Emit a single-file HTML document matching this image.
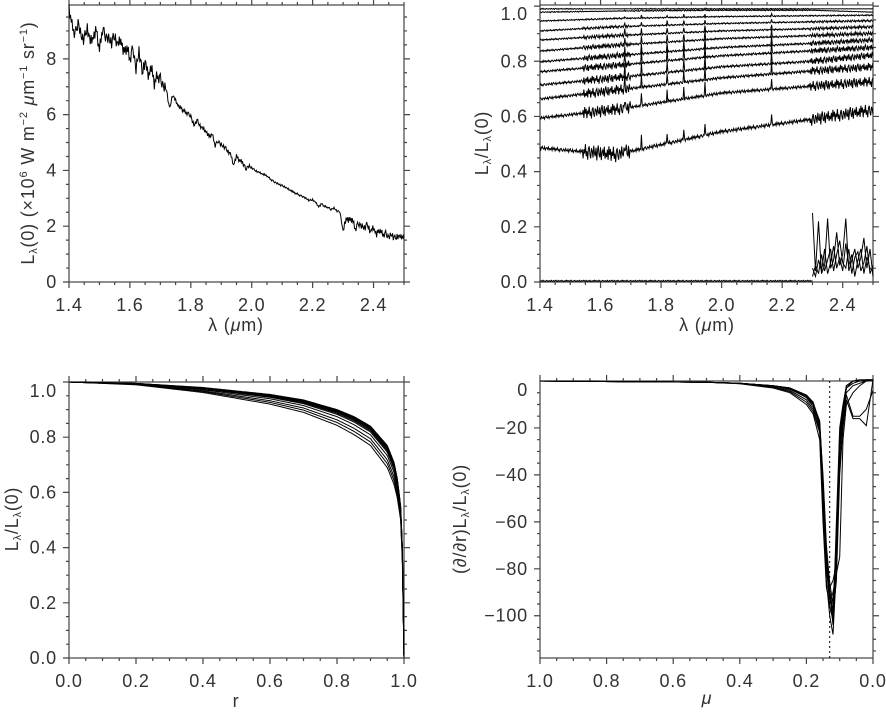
<!DOCTYPE html>
<html><head><meta charset="utf-8"><style>
html,body{margin:0;padding:0;background:#fff;}
svg{display:block;font-family:"Liberation Sans",sans-serif;}
text{fill:#333;font-size:18px;letter-spacing:0.8px;}
</style></head><body>
<svg id="chart" width="886" height="712" viewBox="0 0 886 712" xmlns="http://www.w3.org/2000/svg">
<g id="axes"></g>
<g id="series" fill="none" stroke="#000" stroke-width="1"></g>
<text x="236" y="331" text-anchor="middle">λ (<tspan font-style="italic">μ</tspan>m)</text>
<text x="707" y="331" text-anchor="middle">λ (<tspan font-style="italic">μ</tspan>m)</text>
<text x="236" y="707" text-anchor="middle">r</text>
<text x="707" y="704" text-anchor="middle" font-style="italic">μ</text>
<text transform="translate(34,143) rotate(-90)" text-anchor="middle">L<tspan font-size="11" dy="3">λ</tspan><tspan dy="-3">(0) (×10</tspan><tspan font-size="11" dy="-7">6</tspan><tspan dy="7"> W m</tspan><tspan font-size="11" dy="-7">−2</tspan><tspan dy="7"> </tspan><tspan font-style="italic">μ</tspan><tspan>m</tspan><tspan font-size="11" dy="-7">−1</tspan><tspan dy="7"> sr</tspan><tspan font-size="11" dy="-7">−1</tspan><tspan dy="7">)</tspan></text>
<text transform="translate(488,143) rotate(-90)" text-anchor="middle">L<tspan font-size="11" dy="3">λ</tspan><tspan dy="-3">/L</tspan><tspan font-size="11" dy="3">λ</tspan><tspan dy="-3">(0)</tspan></text>
<text transform="translate(18,519) rotate(-90)" text-anchor="middle">L<tspan font-size="11" dy="3">λ</tspan><tspan dy="-3">/L</tspan><tspan font-size="11" dy="3">λ</tspan><tspan dy="-3">(0)</tspan></text>
<text transform="translate(466,519) rotate(-90)" text-anchor="middle">(∂/∂r)L<tspan font-size="11" dy="3">λ</tspan><tspan dy="-3">/L</tspan><tspan font-size="11" dy="3">λ</tspan><tspan dy="-3">(0)</tspan></text>
</svg>
<script>
// ---------- data ----------
const specStart = 1.40, specStep = 0.01;
const specValues = [9.8,9.2,8.9,9.3,8.8,8.7,9.1,8.6,8.8,9.0,
 8.3,9.1,8.8,8.7,8.6,8.8,8.5,8.7,8.2,8.4,
 8.0,8.4,7.6,8.3,7.5,7.9,7.4,7.7,7.1,7.4,
 7.3,7.0,6.9,6.2,6.7,6.5,6.3,6.2,6.1,6.05,
 5.95,5.6,5.8,5.6,5.5,5.4,5.2,5.3,4.9,5.05,
 4.9,4.85,4.7,4.6,4.2,4.5,4.35,4.3,4.05,4.15,
 4.1,4.0,3.95,3.9,3.85,3.8,3.7,3.62,3.55,3.5,
 3.45,3.4,3.33,3.27,3.2,3.15,3.1,3.05,2.98,2.92,
 2.95,2.85,2.7,2.8,2.7,2.68,2.6,2.65,2.55,2.5,
 1.8,2.3,2.2,2.25,1.9,2.1,2.0,1.95,2.05,1.8,
 1.95,1.7,1.85,1.7,1.75,1.6,1.7,1.55,1.65,1.6,1.65];
const jitter = [0.6,-0.8,0.3,-0.2,0.9,-0.5,0.1,-0.9,0.4,0.7,-0.3,-0.7,0.5,0.2,-0.6,0.8,-0.1,-0.4,0.6,-0.9,0.3,0.9,-0.2,-0.5,0.7,-0.8,0.2,0.4,-0.3,0.8,-0.6,0.1,-0.4,0.5,-0.7,0.9,-0.1];

const ratioLam = [1.4,1.65,2.0,2.3,2.5];
const ratioCurves = [
 [0.99,0.99,0.99,0.99,0.99],
 [0.978,0.982,0.985,0.985,0.978],
 [0.946,0.955,0.962,0.965,0.967],
 [0.91,0.925,0.937,0.943,0.947],
 [0.877,0.893,0.91,0.918,0.925],
 [0.837,0.858,0.882,0.893,0.901],
 [0.798,0.82,0.85,0.865,0.877],
 [0.762,0.785,0.82,0.838,0.85],
 [0.714,0.74,0.78,0.8,0.822],
 [0.663,0.695,0.74,0.765,0.78],
 [0.594,0.625,0.685,0.71,0.726],
 [0.486,0.462,0.545,0.59,0.623]];
const emissionLam = [1.68,1.735,1.82,1.875,1.945,2.165];
const emissionHeight = [0.035,0.045,0.04,0.04,0.045,0.04];
const limbLam = [2.30,2.31,2.32,2.33,2.34,2.35,2.36,2.37,2.38,2.39,2.40,2.41,2.42,2.43,2.44,2.45,2.46,2.47,2.48,2.49,2.50];
const limbA = [0.25,0.04,0.22,0.03,0.06,0.23,0.05,0.08,0.18,0.06,0.1,0.23,0.04,0.08,0.12,0.05,0.09,0.16,0.05,0.12,0.02];
const limbB = [0.02,0.06,0.03,0.1,0.04,0.08,0.12,0.04,0.1,0.15,0.07,0.05,0.12,0.03,0.09,0.11,0.04,0.07,0.13,0.03,0.06];
const limbC = [0.05,0.02,0.08,0.04,0.12,0.03,0.07,0.13,0.05,0.09,0.04,0.14,0.06,0.1,0.02,0.08,0.12,0.03,0.09,0.05,0.04];

const rGrid = [0,0.2,0.4,0.6,0.7,0.8,0.85,0.9,0.95,0.97,0.98,0.99,0.995,1.0];
const rTop = [1.0,0.995,0.98,0.955,0.935,0.9,0.875,0.84,0.77,0.71,0.65,0.55,0.4,0];
const rBottom = [1.0,0.99,0.962,0.92,0.89,0.843,0.81,0.77,0.69,0.63,0.58,0.5,0.35,0];
const rWeights = [1,0.96,0.92,0.88,0.83,0.77,0.7,0.55,0.35,0.18,0];

const muGrid = [1,0.5,0.4,0.3,0.25,0.2,0.18,0.16,0.15,0.14,0.13,0.12,0.11,0.1,0.09,0.08,0.06,0.04,0.02,0];
const derivCurves = [
 [0,-0.5,-1,-2,-3,-6,-9,-18,-45,-75,-90,-104,-60,-20,-10,-2,0,0,1,2],
 [0,-0.5,-1,-2.5,-4,-8,-12,-20,-50,-85,-100,-108,-80,-30,-15,-3,0,0,0,2],
 [0,-0.5,-1.2,-3,-5,-10,-14,-25,-60,-88,-95,-90,-82,-75,-25,-10,-5,-2,0,2],
 [0,-0.5,-1,-2,-3.5,-7,-10,-19,-40,-70,-86,-95,-70,-25,-12,-5,-2,-1,0,2],
 [0,-0.5,-1,-2,-3,-6,-9,-18,-48,-80,-92,-100,-85,-40,-20,-8,-16,-16,-19,2],
 [0,-0.5,-1.1,-2.6,-4.5,-9,-13,-22,-55,-82,-88,-85,-78,-35,-18,-6,-15,-15,-12,-4],
 [0,-0.5,-1,-2.2,-3.2,-7,-11,-21,-52,-78,-96,-102,-72,-28,-14,-3,-1,0,0,2],
 [0,-0.5,-1,-2,-3,-6.5,-9.5,-17,-42,-72,-89,-98,-66,-22,-11,-2,0,1,1,2]];
const dashedMu = 0.13;

// ---------- helpers ----------
const NS = "http://www.w3.org/2000/svg";
const axesG = document.getElementById('axes');
const seriesG = document.getElementById('series');
function mk(tag, attrs, parent){const e=document.createElementNS(NS,tag);for(const k in attrs)e.setAttribute(k,attrs[k]);parent.appendChild(e);return e;}
function interp(xs, ys, x){
  const asc = xs[xs.length-1] > xs[0];
  for(let i=0;i<xs.length-1;i++){
    const a=xs[i], b=xs[i+1];
    if(asc ? (x>=a && x<=b) : (x<=a && x>=b)){const t=(x-a)/(b-a);return ys[i]+t*(ys[i+1]-ys[i]);}
  }
  return ys[ys.length-1];
}
function panel(p){
  p.sx = v => p.x0 + (v-p.xmin)/(p.xmax-p.xmin)*(p.x1-p.x0);
  p.sy = v => p.y1 - (v-p.ymin)/(p.ymax-p.ymin)*(p.y1-p.y0);
  const box = mk('rect',{x:p.x0,y:p.y0,width:p.x1-p.x0,height:p.y1-p.y0,fill:'none',stroke:'#444','stroke-width':1.2},axesG);
  
  
  let d='';
  const lo=Math.min(p.xmin,p.xmax), hi=Math.max(p.xmin,p.xmax);
  for(let v=lo; v<=hi+1e-9; v+=p.xminor){
    const isMaj = Math.abs(v/p.xmajor - Math.round(v/p.xmajor))<1e-6;
    const L = isMaj?6:3, x=p.sx(v);
    d+=`M${x},${p.y1}v${L}M${x},${p.y0}v${-L}`;
  }
  for(let v=p.ymin; v<=p.ymax+1e-9; v+=p.yminor){
    const k=v/p.yminor; const vv=Math.round(k)*p.yminor; if(vv<p.ymin-1e-9) continue;
    const isMaj = Math.abs(vv/p.ymajor - Math.round(vv/p.ymajor))<1e-6;
    const L = isMaj?6:3, y=p.sy(vv);
    d+=`M${p.x0},${y}h${-L}M${p.x1},${y}h${L}`;
  }
  const ticks = mk('path',{d:d,stroke:'#444','stroke-width':1.2,fill:'none'},axesG);
  
  
  p.xticks.forEach((v,i)=>{
    const t=mk('text',{x:p.sx(v),y:p.y1+29,'text-anchor':'middle'},axesG);
    t.textContent=p.xlabels[i];
    
    
  });
  p.yticks.forEach((v,i)=>{
    const y=Math.max(p.sy(v), p.y0+9);
    const t=mk('text',{x:p.x0-12,y:y+6,'text-anchor':'end'},axesG);
    t.textContent=p.ylabels[i];
    
    
  });
  return p;
}
function line(pts, name, extra){
  const e = mk('polyline',Object.assign({points:pts.map(q=>q[0].toFixed(1)+','+q[1].toFixed(1)).join(' ')},extra||{}),seriesG);
  
  
  return e;
}

// ---------- panel 1 ----------
const p1 = panel({name:'p1',x0:69,x1:404,y0:5,y1:282,xmin:1.4,xmax:2.5,ymin:0,ymax:9.93,
  xmajor:0.2,xminor:0.05,ymajor:2,yminor:0.5,
  xticks:[1.4,1.6,1.8,2.0,2.2,2.4],xlabels:['1.4','1.6','1.8','2.0','2.2','2.4'],
  yticks:[0,2,4,6,8],ylabels:['0','2','4','6','8']});
{
  const pts=[]; const lams=specValues.map((_,i)=>specStart+i*specStep);
  for(let i=0;i<=440;i++){
    const lam=1.4+i*0.0025;
    let v=interp(lams,specValues,lam);
    const amp = lam<1.72?0.25:(lam<2.0?0.09:(lam<2.3?0.04:0.14));
    v += amp*jitter[i%jitter.length];
    pts.push([p1.sx(lam),p1.sy(v)]);
  }
  line(pts,'central-spectrum',{'stroke-width':1});
}

// ---------- panel 2 ----------
const p2 = panel({name:'p2',x0:540,x1:873,y0:5,y1:282,xmin:1.4,xmax:2.5,ymin:0,ymax:1.004,
  xmajor:0.2,xminor:0.05,ymajor:0.2,yminor:0.05,
  xticks:[1.4,1.6,1.8,2.0,2.2,2.4],xlabels:['1.4','1.6','1.8','2.0','2.2','2.4'],
  yticks:[0,0.2,0.4,0.6,0.8,1.0],ylabels:['0.0','0.2','0.4','0.6','0.8','1.0']});
ratioCurves.forEach((c,ci)=>{
  const depth = 1-c[0];
  const pts=[];
  for(let i=0;i<=440;i++){
    const lam=1.4+i*0.0025;
    let v=interp(ratioLam,c,lam);
    let amp = 0.002 + depth*0.01;
    if(lam>1.54 && lam<1.7) amp = depth*0.06;
    if(lam>2.29) amp = depth*0.05;
    v += amp*jitter[(i+ci*5)%jitter.length];
    emissionLam.forEach((el,k)=>{ if(Math.abs(lam-el)<0.0013) v += emissionHeight[k]*Math.min(1,depth*4); });
    pts.push([p2.sx(lam),p2.sy(v)]);
  }
  line(pts,'ratio-curve-'+ci);
});
{
  const pts=[];
  for(let i=0;i<=360;i++){
    const lam=1.4+i*0.0025;
    let v=0.003+0.004*Math.max(0,jitter[i%jitter.length]);
    pts.push([p2.sx(lam),p2.sy(v)]);
  }
  line(pts,'ratio-curve-limb-base');
  [limbA,limbB,limbC].forEach((arr,k)=>{
    line(limbLam.map((l,i)=>[p2.sx(l),p2.sy(arr[i])]),'ratio-curve-limb-'+k);
  });
}

// ---------- panel 3 ----------
const p3 = panel({name:'p3',x0:69,x1:404,y0:382,y1:658,xmin:0,xmax:1,ymin:0,ymax:1.0,
  xmajor:0.2,xminor:0.05,ymajor:0.2,yminor:0.05,
  xticks:[0,0.2,0.4,0.6,0.8,1.0],xlabels:['0.0','0.2','0.4','0.6','0.8','1.0'],
  yticks:[0,0.2,0.4,0.6,0.8,1.0],ylabels:['0.0','0.2','0.4','0.6','0.8','1.0']});
rWeights.forEach((w,ci)=>{
  const vals = rTop.map((t,i)=>t*w + rBottom[i]*(1-w));
  const pts=[];
  for(let i=0;i<=400;i++){
    const r = 1 - Math.pow(1-i/400,2);
    pts.push([p3.sx(r),p3.sy(interp(rGrid,vals,r))]);
  }
  line(pts,'intensity-profile-'+ci);
});

// ---------- panel 4 ----------
const p4 = panel({name:'p4',x0:540,x1:873,y0:381,y1:658,xmin:1,xmax:0,ymin:-118,ymax:0,
  xmajor:0.2,xminor:0.05,ymajor:20,yminor:5,
  xticks:[1,0.8,0.6,0.4,0.2,0],xlabels:['1.0','0.8','0.6','0.4','0.2','0.0'],
  yticks:[0,-20,-40,-60,-80,-100],ylabels:['0','−20','−40','−60','−80','−100']});
derivCurves.forEach((c,ci)=>{
  line(muGrid.map((m,i)=>[p4.sx(m),p4.sy(Math.min(c[i],0.5))]),'derivative-curve-'+ci);
});
{
  const x=p4.sx(dashedMu);
  const dl=mk('line',{x1:x,y1:p4.y0,x2:x,y2:p4.y1,stroke:'#000','stroke-dasharray':'2,3'},seriesG);
  
  
}
</script>
</body></html>
